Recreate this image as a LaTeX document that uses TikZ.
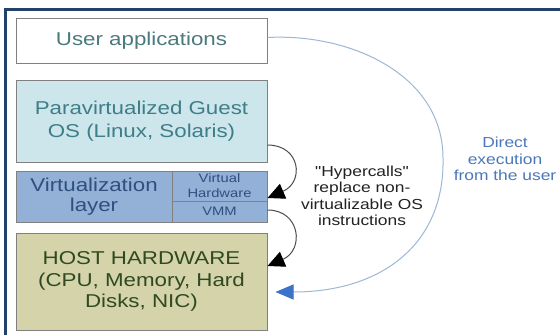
\documentclass[tikz,border=0pt]{standalone}
\usepackage{fontspec}
\newfontfamily\diagfont[FakeStretch=1.2]{Liberation Sans}
\usetikzlibrary{arrows.meta,calc}
\definecolor{frameblue}{HTML}{24416A}
\definecolor{boxline}{HTML}{808080}
\definecolor{parafill}{HTML}{CDE6EC}
\definecolor{virtfill}{HTML}{93B1D7}
\definecolor{hostfill}{HTML}{D5D3A9}
\definecolor{usertext}{HTML}{4A7A7D}
\definecolor{paratext}{HTML}{3E7E88}
\definecolor{virttext}{HTML}{2E4F80}
\definecolor{hosttext}{HTML}{2F4A22}
\definecolor{arcblue}{HTML}{9DB8D6}
\definecolor{tipblue}{HTML}{3D72C9}
\definecolor{noteblue}{HTML}{4A78B8}
\definecolor{notedark}{HTML}{222222}
\begin{document}
\begin{tikzpicture}[x=1pt,y=-1pt,
  layerbox/.style={draw=boxline,line width=1pt,rectangle,inner sep=0pt,align=center},
  bigtext/.style={font=\diagfont\fontsize{18.6}{22.7}\selectfont},
  smalltext/.style={font=\diagfont\fontsize{12.3}{15}\selectfont},
  notetext/.style={font=\diagfont\fontsize{14.5}{16.5}\selectfont,align=center,inner sep=0pt},
  hyperarc/.style={draw=black!70,line width=1pt,-{Triangle[length=17pt,width=16pt,color=black,fill=black]}},
  directarc/.style={draw=arcblue,line width=1pt,-{Triangle[length=18pt,width=15pt,color=tipblue,fill=tipblue]}}
]
\useasboundingbox (0,0) rectangle (560,335);
\fill[white] (0,0) rectangle (560,335);
% frame
\draw[frameblue,line width=3pt] (5,335) -- (5,9.5) -- (560,9.5);

% layers
\node[layerbox,fill=white,minimum width=251pt,minimum height=45pt,bigtext,text=usertext] (user) at (141.5,40.5) {User applications};
\node[layerbox,fill=parafill,minimum width=251pt,minimum height=82pt,bigtext,text=paratext] (para) at (141.5,121) {Paravirtualized Guest\\OS (Linux, Solaris)};
\node[layerbox,fill=virtfill,minimum width=156pt,minimum height=51pt,font=\diagfont\fontsize{18.6}{20}\selectfont,text=virttext] (virt) at (94,196.5) {Virtualization\\layer};
\node[layerbox,fill=virtfill,minimum width=95pt,minimum height=30pt,smalltext,text=virttext] (hw) at (219.5,186) {Virtual\\Hardware};
\node[layerbox,fill=virtfill,minimum width=95pt,minimum height=21pt,smalltext,text=virttext] (vmm) at (219.5,211.5) {VMM};
\node[layerbox,fill=hostfill,minimum width=251pt,minimum height=97pt,font=\diagfont\fontsize{18.6}{21.5}\selectfont,text=hosttext] (host) at (141.5,281.5) {HOST HARDWARE\\(CPU, Memory, Hard\\Disks, NIC)};

% annotations
\node[notetext,text=notedark] (hyper) at (362,196) {"Hypercalls"\\replace non-\\virtualizable OS\\instructions};
\node[notetext,text=noteblue] (direct) at (505,159) {Direct\\execution\\from the user};

% connectors
\coordinate (rt) at (443,158);
\draw[hyperarc] ([yshift=-24pt]para.east) .. controls +(33,0) and +(37,-16) .. ([yshift=-12pt]hw.east);
\draw[hyperarc] ([yshift=1.5pt]vmm.east) .. controls +(33,0) and +(37,-16) .. ([yshift=15.5pt]host.east);
\draw[directarc] ([yshift=3pt]user.east) .. controls +(83,-4.5) and +(0,-83) .. (rt)
  .. controls +(2,87) and +(105,0) .. ([xshift=8pt,yshift=-10.5pt]host.east);
\end{tikzpicture}
\end{document}
